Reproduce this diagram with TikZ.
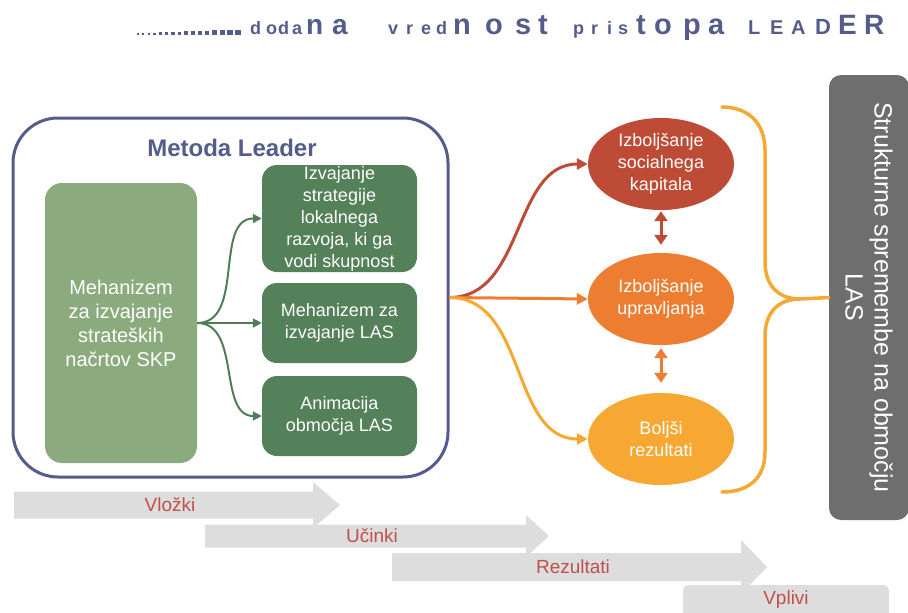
\documentclass[tikz,border=0pt]{standalone}
\usepackage{fontspec}
\setmainfont{Liberation Sans}
\usepackage{xcolor}
\usepackage{tikz}
\usetikzlibrary{positioning, arrows.meta, shapes.geometric, calc}

\definecolor{leaderblue}{RGB}{84,92,140}
\definecolor{lightgreen}{RGB}{139,170,125}
\definecolor{darkgreen}{RGB}{84,128,90}
\definecolor{arrowgreen}{RGB}{80,125,85}
\definecolor{brick}{RGB}{190,75,54}
\definecolor{carrot}{RGB}{237,125,49}
\definecolor{gold}{RGB}{246,168,51}
\definecolor{boxgrey}{RGB}{110,110,110}
\definecolor{flowgrey}{RGB}{221,221,221}
\definecolor{flowred}{RGB}{192,80,77}

\begin{document}
\begin{tikzpicture}[x=1pt, y=-1pt,
    titlechar/.style={anchor=base west, inner sep=0pt, text=leaderblue},
    greenbox/.style={rectangle, rounded corners=15pt, fill=darkgreen, text=white, minimum width=155pt, inner sep=0pt, align=center, font=\fontsize{18}{22}\selectfont},
    goal/.style={ellipse, fill=#1, text=white, minimum width=146pt, minimum height=92pt, inner sep=0pt, align=center, font=\fontsize{18}{22}\selectfont},
    garrow/.style={-{Triangle[length=9pt,width=9pt]}, line width=2pt, draw=arrowgreen},
    farrow/.style={-{Triangle[length=11pt,width=11pt]}, line width=3pt, draw=#1},
    darrow/.style={{Triangle[length=10pt,width=13pt]}-{Triangle[length=10pt,width=13pt]}, line width=3pt, draw=#1},
    flowtext/.style={text=flowred, inner sep=0pt, font=\fontsize{19}{22}\selectfont}
]
    \clip (0,0) rectangle (908,613);

    % title
    \foreach \i in {0,...,15} {
        \pgfmathsetmacro{\sq}{1.6+0.25*\i}
        \pgfmathsetmacro{\px}{137+5.2*\i+0.09*\i*\i}
        \fill[leaderblue] (\px,35) rectangle ++(\sq,-\sq);
    }
    \foreach \ch/\px/\sz [count=\i] in {d/250/18, o/266/18, d/278/18, a/292/18, n/306/28, a/332/28,
        v/388/18, r/406/18, e/421/18, d/436/18, n/453/29, o/485/29, s/515/29, t/538/29,
        p/573/18, r/591/18, i/607/18, s/618/18, t/636/29, o/654/29, p/683/29, a/708/29,
        L/748/20, E/770/20, A/791/20, D/815/22, E/838/28, R/864/28} {
        \node[titlechar, font=\bfseries\fontsize{\sz}{\sz}\selectfont] (ttl\i) at (\px,34.5) {\ch};
    }

    % Metoda Leader
    \node[rectangle, draw=leaderblue, line width=3pt, rounded corners=45pt, minimum width=435pt, minimum height=359pt] (metoda) at (230.5,297.5) {};
    \node[font=\bfseries\fontsize{24}{27}\selectfont, text=leaderblue] (metodatitle) at (232,148) {Metoda Leader};

    \node[rectangle, rounded corners=17pt, fill=lightgreen, minimum width=152pt, minimum height=280pt, text=white, align=center, font=\fontsize{20}{24}\selectfont] (mech) at (121,323) {Mehanizem\\za izvajanje\\strateških\\načrtov SKP};

    \node[greenbox, minimum height=107pt] (impl1) at (339.5,218.5) {Izvajanje\\strategije\\lokalnega\\razvoja, ki ga\\vodi skupnost};
    \node[greenbox, minimum height=80pt] (impl2) at (339.5,323) {Mehanizem za\\izvajanje LAS};
    \node[greenbox, minimum height=80pt] (impl3) at (339.5,416) {Animacija\\območja LAS};

    \draw[garrow] (mech.east) to[out=0, in=180] (impl1.west);
    \draw[garrow] (mech.east) -- (impl2.west);
    \draw[garrow] (mech.east) to[out=0, in=180] (impl3.west);

    % results
    \node[goal=brick] (goal1) at (661,164) {Izboljšanje\\socialnega\\kapitala};
    \node[goal=carrot] (goal2) at (661,299) {Izboljšanje\\upravljanja};
    \node[goal=gold] (goal3) at (661,439) {Boljši\\rezultati};

    \draw[farrow=brick] (metoda.east) to[out=0, in=180] (goal1.west);
    \draw[farrow=carrot] (metoda.east) -- (goal2.west);
    \draw[farrow=gold] (metoda.east) to[out=0, in=180] (goal3.west);

    \draw[darrow=brick, shorten <=1pt, shorten >=8pt] (goal1.south) -- (goal2.north);
    \draw[darrow=carrot, shorten <=3pt, shorten >=10pt] (goal2.south) -- (goal3.north);

    % brace and LAS box
    \node[rectangle, rounded corners=12pt, fill=boxgrey, minimum width=445pt, minimum height=80pt, rotate=-90, text=white, align=center, font=\fontsize{25}{29}\selectfont] (las) at (869,297.5) {Strukturne spremembe na območju\\LAS};
    \draw[gold, line width=3.5pt, line cap=round] (722,107) .. controls (750,107) and (765,125) .. (765,150) -- (765,262)
        .. controls (765,285) and (778,299) .. (800,299) -- (las.south);
    \draw[gold, line width=3.5pt, line cap=round] (800,299) .. controls (778,299) and (765,313) .. (765,336) -- (765,452)
        .. controls (765,477) and (750,492) .. (722,492);

    % flow arrows
    \foreach \nm/\xa/\xb/\xt/\yc/\hb/\hh/\lx/\txt in {vlozki/14/313/340/505/13.5/23/170/Vložki,
        ucinki/205/526/549/536/11.5/21/372/Učinki, rezultati/392/741/767/567/14/27/573/Rezultati} {
        \fill[flowgrey] (\xa,\yc-\hb) -- (\xb,\yc-\hb) -- (\xb,\yc-\hh) -- (\xt,\yc) -- (\xb,\yc+\hh) -- (\xb,\yc+\hb) -- (\xa,\yc+\hb) -- cycle;
        \node[flowtext] (\nm) at (\lx,\yc) {\txt};
    }
    \fill[flowgrey, rounded corners=6pt] (683,585) rectangle (889,625);
    \node[flowtext] (vplivi) at (786,600) {Vplivi};
\end{tikzpicture}
\end{document}
